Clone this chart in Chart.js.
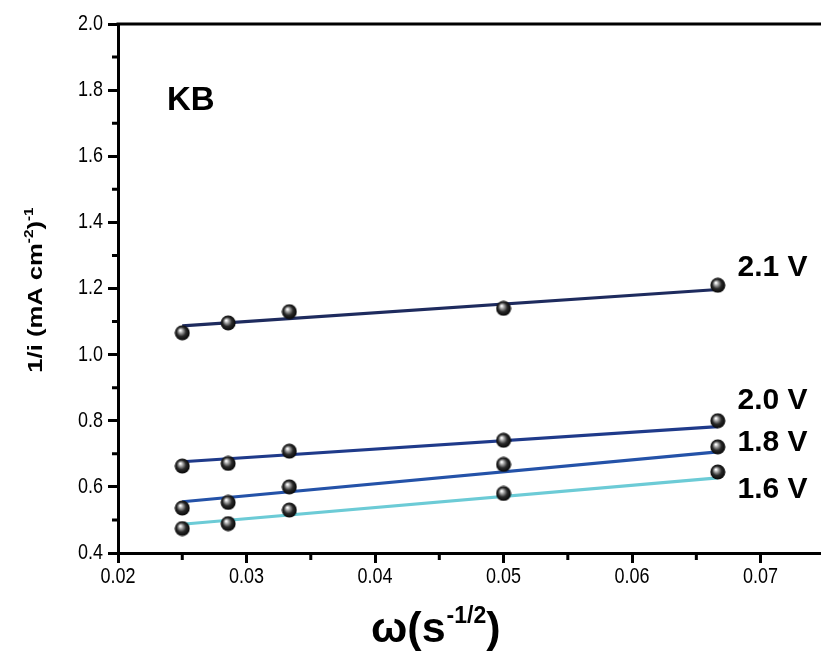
<!DOCTYPE html>
<html>
<head>
<meta charset="utf-8">
<script src="https://cdn.jsdelivr.net/npm/chart.js@4.4.1/dist/chart.umd.min.js"></script>
<style>
  html, body { margin: 0; padding: 0; background: #fff; }
  #wrap { width: 821px; height: 652px; }
</style>
</head>
<body>
<div id="wrap"><canvas id="chart" width="821" height="652"></canvas></div>
<script>
// omega^-1/2 values (s^-1/2)
var omega = [0.025, 0.02857, 0.03333, 0.05, 0.06667];

// measured 1/i for each potential
var v21 = [1.066, 1.096, 1.130, 1.140, 1.210];
var v20 = [0.663, 0.671, 0.708, 0.741, 0.800];
var v18 = [0.536, 0.553, 0.600, 0.668, 0.721];
var v16 = [0.474, 0.489, 0.530, 0.580, 0.645];

// fitted lines, value at first and last omega
var fitX = [0.025, 0.06667];
var fit21 = [1.087, 1.197];
var fit20 = [0.676, 0.782];
var fit18 = [0.555, 0.706];
var fit16 = [0.487, 0.627];

var seriesNames = ['2.1 V', '2.0 V', '1.8 V', '1.6 V'];
var labelY = [1.262, 0.862, 0.735, 0.590];

var xTicks = [0.02, 0.03, 0.04, 0.05, 0.06, 0.07];
var yTicks = [0.4, 0.6, 0.8, 1.0, 1.2, 1.4, 1.6, 1.8, 2.0];

var lineColors = ['#1e2b5e', '#1f3a8a', '#2452a8', '#6ccbd6'];
var FONT = '"Liberation Sans", Arial, sans-serif';

// shiny black ball used as marker
function ball() {
    var c = document.createElement('canvas');
    c.width = 16; c.height = 16;
    var g = c.getContext('2d');
    var grad = g.createRadialGradient(6, 5.5, 0.5, 8, 8, 8);
    grad.addColorStop(0, '#ffffff');
    grad.addColorStop(0.25, '#9a9a9a');
    grad.addColorStop(0.55, '#2a2a2a');
    grad.addColorStop(1, '#000000');
    g.fillStyle = grad;
    g.beginPath();
    g.arc(8, 8, 7.5, 0, Math.PI * 2);
    g.fill();
    return c;
}
var ballImg = ball();

function pts(ys, xs) {
    return ys.map(function(y, i) { return {x: xs[i], y: y}; });
}

var fits = [fit21, fit20, fit18, fit16];
var meas = [v21, v20, v18, v16];
var datasets = [];
fits.forEach(function(f, i) {
    datasets.push({
        type: 'line',
        label: seriesNames[i] + ' fit',
        data: pts(f, fitX),
        borderColor: lineColors[i],
        borderWidth: 3.2,
        pointRadius: 0,
        fill: false,
        order: 2
    });
});
meas.forEach(function(m, i) {
    datasets.push({
        type: 'scatter',
        label: seriesNames[i],
        data: pts(m, omega),
        pointStyle: ballImg,
        pointRadius: 8,
        order: 1
    });
});

// text stretched a little vertically, like the source figure
function tallText(ctx, txt, x, y, align, sy) {
    ctx.save();
    ctx.translate(x, y);
    ctx.scale(1, sy);
    ctx.textAlign = align;
    ctx.fillText(txt, 0, 0);
    ctx.restore();
}

var decor = {
    id: 'decor',
    afterDraw: function(chart) {
        var ctx = chart.ctx, xs = chart.scales.x, ys = chart.scales.y, a = chart.chartArea;
        ctx.save();
        ctx.strokeStyle = '#000';
        ctx.lineWidth = 3;
        // top frame line
        ctx.beginPath();
        ctx.moveTo(a.left - 1.5, a.top);
        ctx.lineTo(a.right, a.top);
        ctx.stroke();
        // minor ticks
        ctx.beginPath();
        for (var v = 0.025; v < 0.0747; v += 0.01) {
            var px = xs.getPixelForValue(v);
            ctx.moveTo(px, a.bottom);
            ctx.lineTo(px, a.bottom + 7);
        }
        for (var w = 0.5; w < 2.0; w += 0.2) {
            var py = ys.getPixelForValue(w);
            ctx.moveTo(a.left, py);
            ctx.lineTo(a.left - 6, py);
        }
        ctx.stroke();

        ctx.fillStyle = '#000';
        ctx.textBaseline = 'middle';
        // tick labels
        ctx.font = '18px ' + FONT;
        xTicks.forEach(function(t) {
            tallText(ctx, String(t), xs.getPixelForValue(t), a.bottom + 24, 'center', 1.22);
        });
        yTicks.forEach(function(t) {
            tallText(ctx, t.toFixed(1), a.left - 15, ys.getPixelForValue(t), 'right', 1.2);
        });

        // KB label
        ctx.font = 'bold 33px ' + FONT;
        ctx.textAlign = 'left';
        ctx.fillText('KB', 167, 101);

        // series labels
        ctx.font = 'bold 30px ' + FONT;
        seriesNames.forEach(function(n, i) {
            ctx.fillText(n, xs.getPixelForValue(0.0682), ys.getPixelForValue(labelY[i]));
        });

        // x title
        ctx.textBaseline = 'alphabetic';
        var x0 = 371, base = 642;
        ctx.font = 'bold 43px ' + FONT;
        ctx.fillText('\u03c9(s', x0, base);
        x0 += ctx.measureText('\u03c9(s').width;
        ctx.font = 'bold 23px ' + FONT;
        ctx.fillText('-1/2', x0 + 1, base - 19);
        x0 += ctx.measureText('-1/2').width + 1;
        ctx.font = 'bold 43px ' + FONT;
        ctx.fillText(')', x0, base);

        // y title
        ctx.translate(42, 290);
        ctx.rotate(-Math.PI / 2);
        ctx.scale(1.28, 1);
        var big = 'bold 20px ' + FONT;
        var small = 'bold 12px ' + FONT;
        var parts = [['1/i (mA cm', big, 0], ['-2', small, -9], [')', big, 0], ['-1', small, -9]];
        var total = 0;
        parts.forEach(function(p) { ctx.font = p[1]; total += ctx.measureText(p[0]).width; });
        var cx = -total / 2;
        parts.forEach(function(p) {
            ctx.font = p[1];
            ctx.fillText(p[0], cx, p[2]);
            cx += ctx.measureText(p[0]).width;
        });
        ctx.restore();
    }
};

var chart = new Chart(document.getElementById('chart'), {
    data: { datasets: datasets },
    options: {
        responsive: false,
        animation: false,
        clip: false,
        layout: { autoPadding: false, padding: { top: 24, left: 0, right: 0, bottom: 0 } },
        plugins: { legend: { display: false }, tooltip: { enabled: false } },
        scales: {
            x: {
                type: 'linear',
                min: 0.02,
                max: 0.0747,
                afterFit: function(s) { s.height = 99; s.paddingLeft = 0; s.paddingRight = 0; },
                afterBuildTicks: function(s) { s.ticks = xTicks.map(function(v) { return {value: v}; }); },
                ticks: { display: false },
                grid: { drawOnChartArea: false, drawTicks: true, tickLength: 10, color: '#000', lineWidth: 3 },
                border: { color: '#000', width: 3 }
            },
            y: {
                type: 'linear',
                min: 0.4,
                max: 2.0,
                afterFit: function(s) { s.width = 118; s.paddingTop = 0; s.paddingBottom = 0; },
                afterBuildTicks: function(s) { s.ticks = yTicks.map(function(v) { return {value: v}; }); },
                ticks: { display: false },
                grid: { drawOnChartArea: false, drawTicks: true, tickLength: 10, color: '#000', lineWidth: 3 },
                border: { color: '#000', width: 3 }
            }
        }
    },
    plugins: [decor]
});
</script>
</body>
</html>
